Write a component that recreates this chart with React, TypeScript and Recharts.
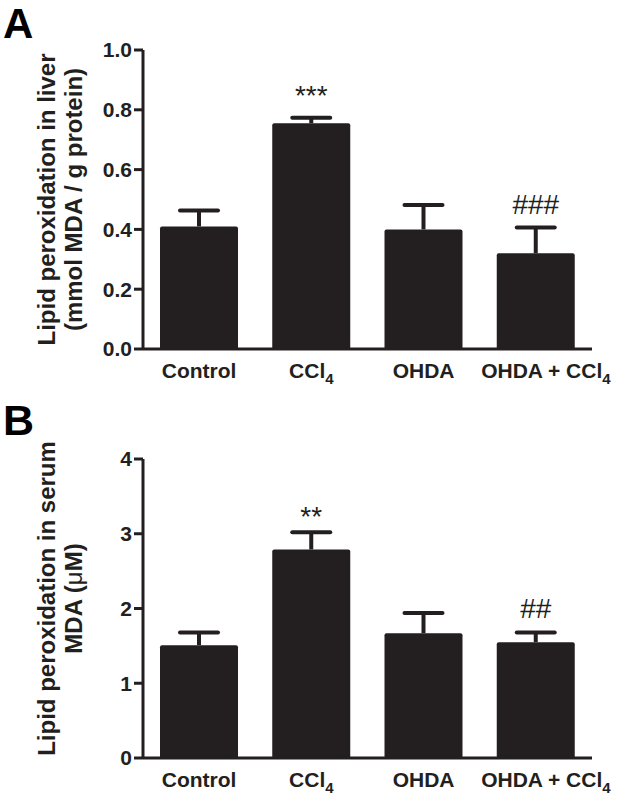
import React from 'react';
import { BarChart, Bar, XAxis, YAxis, LabelList, Label } from 'recharts';

const FONT = '"Liberation Sans", Arial, Helvetica, sans-serif';
const INK = '#231f20';

const categories = ['Control', 'CCl4', 'OHDA', 'OHDA + CCl4'];

const liverMean = [0.41, 0.755, 0.40, 0.32];
const liverSem = [0.053, 0.018, 0.082, 0.086];
const liverSig = ['', '***', '', '###'];
const liverTicks = [0, 0.2, 0.4, 0.6, 0.8, 1.0];

const serumMean = [1.51, 2.79, 1.67, 1.55];
const serumSem = [0.17, 0.23, 0.27, 0.13];
const serumSig = ['', '**', '', '##'];
const serumTicks = [0, 1, 2, 3, 4];

const XTick = (props: any) => {
  const { x, y, payload, index } = props;
  const label: string = String(payload.value);
  const hasSub = label.endsWith('CCl4');
  const main = hasSub ? label.slice(0, -1) : label;
  const dx = index === 3 ? 10 : 0;
  return (
    <text
      x={x + dx}
      y={y + 29}
      textAnchor="middle"
      fontFamily={FONT}
      fontWeight="bold"
      fontSize={21}
      fill={INK}
    >
      {main}
      {hasSub ? (
        <tspan fontSize={15} dy={6}>
          4
        </tspan>
      ) : null}
    </text>
  );
};

// Bar with an upper-only error whisker; whisker length uses the bar's own
// pixel-per-unit ratio (height / value) from the library's y scale.
const BarWithError = (props: any) => {
  const { x, y, width, height, payload } = props;
  if (!payload || !height) return null;
  const h = Math.abs(height);
  const pxPer = h / payload.mean;
  const errTop = y - payload.sem * pxPer;
  const cx = x + width / 2;
  const r = 2;
  const d = `M${x},${y + h} L${x},${y + r} Q${x},${y} ${x + r},${y} L${x + width - r},${y} Q${x + width},${y} ${x + width},${y + r} L${x + width},${y + h} Z`;
  return (
    <g>
      <path d={d} fill={INK} />
      <line x1={cx} x2={cx} y1={y} y2={errTop} stroke={INK} strokeWidth={4} />
      <line
        x1={cx - 19}
        x2={cx + 19}
        y1={errTop}
        y2={errTop}
        stroke={INK}
        strokeWidth={4}
        strokeLinecap="round"
      />
    </g>
  );
};

type PanelProps = {
  means: number[];
  sems: number[];
  sigs: string[];
  ticks: number[];
  domain: [number, number];
  digits: number;
  letter: string;
  letterY: number;
  letterSize: number;
  line1: React.ReactNode;
  line2: React.ReactNode;
  labelShift: number;
  height: number;
  top: number;
  bottom: number;
  xAxisHeight: number;
  starGap: number;
  hashGap: number;
};

const Panel = (p: PanelProps) => {
  const data = categories.map((c, i) => ({
    name: c,
    mean: p.means[i],
    sem: p.sems[i],
    sig: p.sigs[i],
  }));

  const SigLabel = (props: any) => {
    const vb = props.viewBox || {};
    const x = props.x ?? vb.x;
    const y = props.y ?? vb.y;
    const width = props.width ?? vb.width;
    const height = Math.abs(props.height ?? vb.height);
    const index = props.index;
    const value = props.value;
    if (!value) return null;
    const m = p.means[index];
    const e = p.sems[index];
    const pxPer = height / m;
    const top = y - e * pxPer;
    const gap = String(value).startsWith('*') ? p.starGap : p.hashGap;
    return (
      <text
        x={x + width / 2}
        y={top - gap}
        textAnchor="middle"
        fontFamily={FONT}
        fontSize={28}
        fill={INK}
      >
        {value}
      </text>
    );
  };

  const Decor = (props: any) => {
    const vb = props.viewBox || { x: 0, y: 0, width: 0, height: 0 };
    const cy = vb.y + vb.height / 2 + p.labelShift;
    return (
      <g>
        <text
          x={3}
          y={p.letterY}
          fontFamily={FONT}
          fontWeight="bold"
          fontSize={p.letterSize}
          fill="#000"
        >
          {p.letter}
        </text>
        <text
          x={55}
          y={cy}
          transform={`rotate(-90 55 ${cy})`}
          textAnchor="middle"
          fontFamily={FONT}
          fontWeight="bold"
          fontSize={24}
          fill={INK}
        >
          {p.line1}
        </text>
        <text
          x={82}
          y={cy}
          transform={`rotate(-90 82 ${cy})`}
          textAnchor="middle"
          fontFamily={FONT}
          fontWeight="bold"
          fontSize={24}
          fill={INK}
        >
          {p.line2}
        </text>
      </g>
    );
  };

  return (
    <BarChart
      width={617}
      height={p.height}
      data={data}
      margin={{ top: p.top, right: 25, bottom: p.bottom, left: 83 }}
    >
      <XAxis
        dataKey="name"
        tick={<XTick />}
        tickLine={false}
        tickSize={0}
        tickMargin={0}
        height={p.xAxisHeight}
        axisLine={{ stroke: INK, strokeWidth: 3 }}
        interval={0}
      />
      <YAxis
        width={60}
        domain={p.domain}
        ticks={p.ticks}
        interval={0}
        tickFormatter={(v: number) => v.toFixed(p.digits)}
        tickSize={9}
        tickMargin={2}
        axisLine={{ stroke: INK, strokeWidth: 3 }}
        tickLine={{ stroke: INK, strokeWidth: 3 }}
        tick={{ fill: INK, fontSize: 21, fontWeight: 'bold', fontFamily: FONT }}
      >
        <Label content={<Decor />} />
      </YAxis>
      <Bar
        dataKey="mean"
        fill={INK}
        barSize={78}
        shape={<BarWithError />}
        isAnimationActive={false}
      >
        <LabelList dataKey="sig" content={<SigLabel />} />
      </Bar>
    </BarChart>
  );
};

export default function App() {
  return (
    <div
      style={{
        position: 'absolute',
        left: 0,
        top: 0,
        width: 617,
        height: 796,
        overflow: 'hidden',
        background: '#fff',
      }}
    >
      <div style={{ position: 'absolute', left: 0, top: 0 }}>
        <Panel
          means={liverMean}
          sems={liverSem}
          sigs={liverSig}
          ticks={liverTicks}
          domain={[0, 1]}
          digits={1}
          letter="A"
          letterY={38}
          letterSize={42}
          line1="Lipid peroxidation in liver"
          line2="(mmol MDA / g protein)"
          labelShift={0}
          height={400}
          top={50}
          bottom={11}
          xAxisHeight={40}
          starGap={13}
          hashGap={14}
        />
      </div>
      <div style={{ position: 'absolute', left: 0, top: 380 }}>
        <Panel
          means={serumMean}
          sems={serumSem}
          sigs={serumSig}
          ticks={serumTicks}
          domain={[0, 4]}
          digits={0}
          letter="B"
          letterY={55}
          letterSize={43}
          line1="Lipid peroxidation in serum"
          line2={
            <>
              MDA (<tspan fontWeight="normal">μ</tspan>M)
            </>
          }
          labelShift={-10}
          height={416}
          top={79}
          bottom={0}
          xAxisHeight={38}
          starGap={6}
          hashGap={14}
        />
      </div>
    </div>
  );
}
